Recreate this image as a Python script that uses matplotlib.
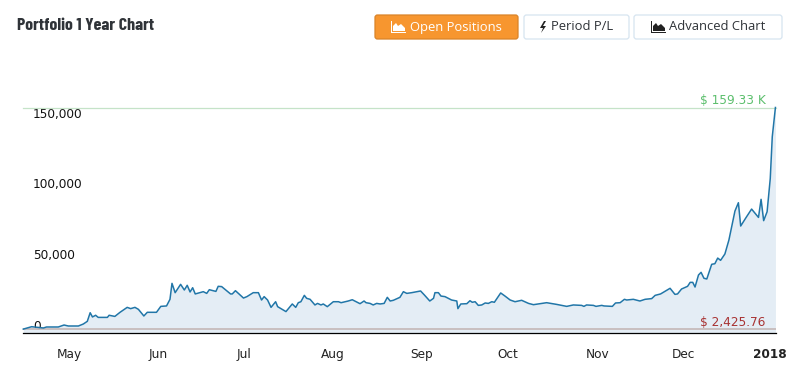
import pandas as pd
import matplotlib
matplotlib.use('Agg')
import matplotlib.pyplot as plt
from matplotlib.patches import FancyBboxPatch, Polygon

# days since 1 May 2017
days = [-15.9, -13, -8.9, -7.8, -3.7, -1.7, -0.2, 3.3, 5, 6.4, 7.4, 8.2, 9.3, 10.2, 13.4, 14, 16, 17.8,
        20.3, 21.5, 23, 24.2, 26.1, 27.3, 30.5, 32, 34, 35.2, 35.9, 37, 38.9, 40.2, 41.2, 42.2, 43.1, 44,
        46.8, 48, 48.9, 51.2, 52, 53.2, 56.3, 56.9, 58, 60.8, 62, 64.2, 66, 67.1, 68, 69.2,
        70.4, 72, 72.7, 75.6, 77.8, 79, 79.9, 80.8, 82, 82.8, 84, 85.7, 86.6, 87.8, 88.6, 90,
        92.1, 93.9, 94.8, 97.3, 98.7, 101.4, 102.8, 103.5, 104.9, 106, 107.2, 108.4, 109.8, 110.9, 111.9, 113,
        115.3, 116.5, 117.7, 119.4, 122.5, 123.8, 125.7, 127, 127.5, 128.7, 129.6, 131, 133.3, 135.1, 135.5, 136.5,
        138.6, 139.7, 140.5, 141.5, 142.6, 143.8, 145, 146.1, 147.3, 148.2, 150.4, 151.9, 153.7, 155.4, 157.7, 160.1,
        161.8, 166.4, 169.9, 173.4, 175.7, 178.6, 179.4, 180.3, 182.7, 183.6, 185.6, 186.4, 189.3, 190.4, 192, 193.5,
        194.3, 196.6, 198.9, 200.7, 203, 204.2, 206.1, 209.4, 211.1, 212, 213.4, 215.5, 216.4, 217.3, 218.1, 219.3,
        220.2, 221.2, 222.2, 223.9, 225, 226, 227, 228.5, 229.9, 232, 233.2, 234, 235.9, 237.8, 240.2, 241.1,
        242, 243.2, 244.3, 245, 246.1]
values = [2.4, 4.1, 3.2, 3.9, 3.9, 5.3, 4.6, 4.6, 6.0, 7.9, 14.0, 11.0, 12.2, 10.7, 10.7, 12.2, 11.4, 14.3,
          17.8, 16.9, 17.8, 16.4, 11.7, 14.3, 14.3, 18.5, 18.8, 23.5, 34.8, 28.2, 34.1, 30.1, 33.4, 28.7, 31.7, 27.3,
          28.9, 27.7, 30.3, 29.1, 32.7, 32.5, 27.3, 27.3, 29.6, 24.4, 25.4, 28.2, 28.2, 23.0, 25.4, 23.0,
          17.8, 21.8, 18.3, 14.8, 20.2, 17.8, 21.1, 21.8, 26.3, 24.2, 23.5, 19.5, 20.6, 19.5, 20.2, 18.3,
          21.8, 21.8, 21.1, 22.3, 23.2, 20.4, 22.3, 21.1, 20.6, 19.5, 20.6, 20.2, 20.6, 24.9, 22.3, 22.8,
          24.9, 28.9, 27.7, 28.2, 29.4, 26.6, 22.3, 24.2, 28.2, 28.2, 25.8, 25.4, 23.0, 22.3, 16.9, 20.2,
          20.4, 22.5, 21.4, 21.8, 19.2, 19.5, 20.9, 20.6, 21.8, 21.4, 28.0, 25.8, 23.0, 21.8, 22.8, 20.6,
          19.7, 21.1, 19.9, 18.5, 19.5, 19.2, 18.5, 19.5, 19.2, 18.5, 19.2, 18.8, 18.5, 20.9, 21.1, 23.5,
          23.0, 23.5, 22.3, 23.5, 24.0, 26.3, 27.3, 31.3, 27.0, 27.3, 30.8, 32.7, 35.5, 35.5, 32.2, 40.7,
          42.6, 38.4, 37.9, 48.3, 48.7, 52.7, 51.1, 55.6, 65.5, 86.0, 91.9, 75.4, 81.5, 87.4, 81.5, 94.3,
          79.2, 85.5, 109.0, 138.6, 159.33]

max_value = 159.33
min_value = 2.42576
y_ticks = [0, 50, 100, 150]
y_labels = ['0', '50,000', '100,000', '150,000']
month_dates = ['2017-05-01', '2017-06-01', '2017-07-01', '2017-08-01', '2017-09-01',
               '2017-10-01', '2017-11-01', '2017-12-01', '2017-12-31']
month_labels = ['May', 'Jun', 'Jul', 'Aug', 'Sep', 'Oct', 'Nov', 'Dec', '2018']

LINE = '#2176a8'
FILL = '#e4edf5'

start = pd.Timestamp('2017-05-01')
dates = start + pd.to_timedelta(days, unit='D')

fig = plt.figure(figsize=(8, 3.68), dpi=100)
ax = fig.add_axes([23 / 800, (368 - 332.5) / 368, 753 / 800, 225 / 368])

ax.fill_between(dates, values, 0, color=FILL, lw=0)
ax.plot(dates, values, color=LINE, lw=1.1, clip_on=False, zorder=3)
ax.axhline(max_value, color='#c5e3c8', lw=0.9, zorder=2, clip_on=False)
ax.axhline(min_value, color='#c9bfc0', lw=1.4, zorder=2)

ax.set_xlim(start + pd.Timedelta(days=-16), start + pd.Timedelta(days=246.3))
ax.set_ylim(0, max_value)

for side in ['top', 'left', 'right']:
    ax.spines[side].set_visible(False)
ax.spines['bottom'].set_color('black')
ax.spines['bottom'].set_linewidth(0.9)

ax.set_xticks(pd.to_datetime(month_dates))
ax.set_xticklabels(month_labels, fontsize=8.7, color='#222222')
ax.get_xticklabels()[-1].set_fontweight('bold')
ax.tick_params(axis='x', length=0, pad=11)

ax.set_yticks(y_ticks)
ax.set_yticklabels(y_labels, fontsize=8.7, color='#111111')
ax.tick_params(axis='y', length=0, pad=-7.2)
for lbl in ax.get_yticklabels():
    lbl.set_ha('left')
    lbl.set_va('bottom')

ax.annotate('$ 159.33 K', xy=(1, max_value), xycoords=ax.get_yaxis_transform(), xytext=(-10, 0),
            textcoords='offset pixels', ha='right', va='bottom', fontsize=8.7, color='#5cbf6d')
ax.annotate('$ 2,425.76', xy=(1, min_value), xycoords=ax.get_yaxis_transform(), xytext=(-11, 0),
            textcoords='offset pixels', ha='right', va='bottom', fontsize=8.7, color='#a83232')

# page header: overlay in pixel coordinates
top = fig.add_axes([0, 0, 1, 1], facecolor='none')
top.set_xlim(0, 800)
top.set_ylim(368, 0)
top.axis('off')

top.text(17, 26, 'Portfolio 1 Year Chart', fontsize=12.9, fontweight='bold', color='#2f3338',
         family=['Barlow Condensed', 'Open Sans'], va='center', ha='left')


def button(x0, x1, face, edge):
    top.add_patch(FancyBboxPatch((x0 + 2, 17), x1 - x0 - 4, 20, boxstyle='round,pad=2,rounding_size=2.5',
                                 fc=face, ec=edge, lw=0.9))


def area_icon(x, color):
    top.add_patch(Polygon([(x, 21), (x, 33), (x + 15, 33), (x + 15, 32), (x + 1, 32), (x + 1, 21)], fc=color, lw=0))
    top.add_patch(Polygon([(x + 2, 31), (x + 2, 26), (x + 5, 23), (x + 7, 26), (x + 10, 24), (x + 14, 28), (x + 14, 31)],
                          fc=color, lw=0))


button(375, 518, '#f7962f', '#d98328')
button(524, 629, 'white', '#d6e4f0')
button(634, 782, 'white', '#d6e4f0')
area_icon(391, 'white')
area_icon(651, '#222222')
top.add_patch(Polygon([(544, 21), (540, 28), (543, 28), (541, 33), (546, 26), (543, 26), (546, 21)], fc='#222222', lw=0))

button_font = dict(fontsize=9.4, family='Open Sans', va='center', ha='left')
top.text(410, 27, 'Open Positions', color='white', **button_font)
top.text(551, 27, 'Period P/L', color='#2f3338', **button_font)
top.text(669, 27, 'Advanced Chart', color='#2f3338', **button_font)

plt.savefig('out.png', dpi=100)
plt.close()
